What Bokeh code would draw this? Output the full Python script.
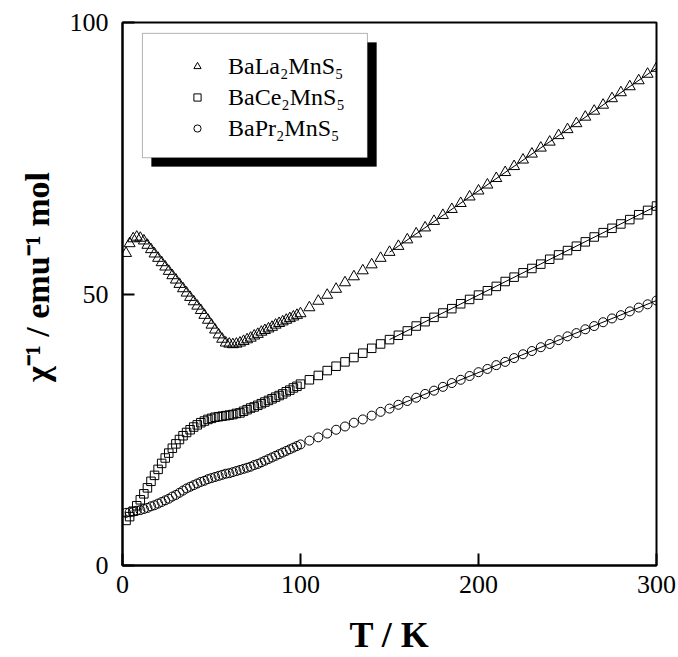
from bokeh.plotting import figure
from bokeh.models import Range1d, FixedTicker, BoxAnnotation, Legend, LegendItem
from bokeh.embed import file_html
from bokeh.resources import INLINE

# ---- data ----
T_low = list(range(2, 101, 2))
T_high = list(range(105, 301, 5))
T = T_low + T_high

la_low = [57.5, 59.3, 60.2, 60.5, 60.3, 59.8, 59.0, 58.2, 57.4, 56.6,
          55.8, 55.0, 54.2, 53.4, 52.6, 51.8, 51.0, 50.2, 49.4, 48.6,
          47.8, 47.0, 46.1, 45.2, 44.3, 43.4, 42.5, 41.7, 41.0, 40.8,
          40.7, 40.8, 41.0, 41.3, 41.6, 41.9, 42.3, 42.6, 43.0, 43.3,
          43.6, 43.9, 44.3, 44.6, 44.9, 45.2, 45.5, 45.8, 46.1, 46.4]
la_high = [47.5, 48.7, 49.8, 50.9, 52.1, 53.2, 54.3, 55.4, 56.6, 57.7,
           58.8, 60.0, 61.1, 62.2, 63.4, 64.5, 65.6, 66.7, 67.9, 69.0,
           70.1, 71.3, 72.4, 73.5, 74.7, 75.8, 76.9, 78.0, 79.2, 80.3,
           81.4, 82.6, 83.7, 84.8, 86.0, 87.1, 88.2, 89.3, 90.5, 91.6]

ce_low = [8.3, 9.0, 10.0, 11.0, 12.1, 13.2, 14.3, 15.5, 16.6, 17.7,
          18.8, 19.8, 20.7, 21.6, 22.4, 23.2, 23.9, 24.5, 25.0, 25.5,
          25.9, 26.3, 26.6, 26.9, 27.1, 27.3, 27.4, 27.5, 27.6, 27.7,
          27.8, 28.0, 28.1, 28.4, 28.7, 29.0, 29.2, 29.5, 29.8, 30.1,
          30.4, 30.7, 31.0, 31.3, 31.6, 32.0, 32.3, 32.7, 33.0, 33.4]
ce_high = [34.2, 35.0, 35.9, 36.7, 37.5, 38.3, 39.1, 40.0, 40.8, 41.6,
           42.4, 43.2, 44.1, 44.9, 45.7, 46.5, 47.3, 48.2, 49.0, 49.8,
           50.6, 51.4, 52.3, 53.1, 53.9, 54.7, 55.5, 56.4, 57.2, 58.0,
           58.8, 59.6, 60.5, 61.3, 62.1, 62.9, 63.7, 64.6, 65.4, 66.2]

pr_low = [9.7, 9.8, 9.9, 10.1, 10.2, 10.4, 10.6, 10.9, 11.1, 11.4,
          11.7, 12.0, 12.3, 12.7, 13.0, 13.4, 13.8, 14.2, 14.5, 14.8,
          15.1, 15.4, 15.6, 15.9, 16.1, 16.3, 16.5, 16.7, 16.9, 17.0,
          17.2, 17.4, 17.6, 17.8, 18.0, 18.2, 18.5, 18.7, 19.0, 19.3,
          19.6, 19.9, 20.2, 20.5, 20.8, 21.1, 21.4, 21.7, 22.0, 22.3]
pr_high = [23.0, 23.6, 24.3, 25.0, 25.6, 26.3, 26.9, 27.6, 28.3, 28.9,
           29.6, 30.3, 30.9, 31.6, 32.2, 32.9, 33.6, 34.2, 34.9, 35.6,
           36.2, 36.9, 37.5, 38.2, 38.9, 39.5, 40.2, 40.8, 41.5, 42.2,
           42.8, 43.5, 44.1, 44.8, 45.5, 46.1, 46.8, 47.5, 48.1, 48.8]

la = la_low + la_high
ce = ce_low + ce_high
pr = pr_low + pr_high

# Curie-Weiss fit lines (end points)
fit_T = [150, 300]
fit_la = [57.7, 91.6]
fit_ce = [41.6, 66.2]
fit_pr = [28.9, 48.8]

names = ["BaLa\u2082MnS\u2085", "BaCe\u2082MnS\u2085", "BaPr\u2082MnS\u2085"]
x_ticks = [0, 100, 200, 300]
y_ticks = [0, 50, 100]
x_title = "T / K"
y_title = "\u00a0\u00a0\u00a0\u00a0\u03c7\u207b\u00b9 / emu\u207b\u00b9 mol"

SERIF = "Liberation Serif"

p = figure(width=678, height=657, output_backend="svg", toolbar_location=None,
           x_range=Range1d(0, 300), y_range=Range1d(0, 100),
           min_border_left=122, min_border_right=22, min_border_top=22,
           min_border_bottom=92)
p.grid.visible = False
p.outline_line_color = "black"
p.outline_line_width = 2
p.background_fill_color = "white"
p.border_fill_color = "white"

for ax, ticks in ((p.xaxis[0], x_ticks), (p.yaxis[0], y_ticks)):
    ax.ticker = FixedTicker(ticks=ticks)
    ax.minor_tick_line_color = None
    ax.major_tick_in = 12
    ax.major_tick_out = 0
    ax.major_tick_line_width = 2
    ax.axis_line_width = 2
    ax.major_label_text_font = SERIF
    ax.major_label_text_font_size = "26px"
    ax.major_label_text_color = "black"
    ax.axis_label_text_font = SERIF
    ax.axis_label_text_font_style = "bold"
    ax.axis_label_text_color = "black"
p.xaxis[0].major_label_standoff = 10
p.yaxis[0].major_label_standoff = 14
p.xaxis[0].axis_label = x_title
p.xaxis[0].axis_label_text_font_size = "36px"
p.xaxis[0].axis_label_standoff = 19
p.yaxis[0].axis_label = y_title
p.yaxis[0].axis_label_text_font_size = "34px"
p.yaxis[0].axis_label_standoff = 11

# legend box + shadow
p.add_layout(BoxAnnotation(left=16.3, right=142.7, top=96.3, bottom=73.5,
                           fill_color="black", fill_alpha=1.0, line_color="black"))
p.add_layout(BoxAnnotation(left=11.2, right=137.6, top=98.0, bottom=75.1,
                           fill_color="white", fill_alpha=1.0,
                           line_color="black", line_width=1))

# fit lines
for fv in (fit_la, fit_ce, fit_pr):
    p.line(fit_T, fv, line_color="black", line_width=1)

r1 = p.scatter(T, la, marker="triangle", size=11, fill_color=None,
               line_color="black", line_width=1)
r2 = p.scatter(T, ce, marker="square", size=8.5, fill_color=None,
               line_color="black", line_width=1)
r3 = p.scatter(T, pr, marker="circle", size=9, fill_color=None,
               line_color="black", line_width=1)

legend = Legend(items=[LegendItem(label=names[0], renderers=[r1]),
                       LegendItem(label=names[1], renderers=[r2]),
                       LegendItem(label=names[2], renderers=[r3])],
                location=(66, 423), orientation="vertical",
                padding=0, margin=0, spacing=3,
                glyph_width=18, glyph_height=18, label_height=28,
                label_standoff=22,
                label_text_font=SERIF, label_text_font_size="24px",
                label_text_color="black",
                border_line_alpha=0, background_fill_alpha=0)
p.add_layout(legend)

open("out.html", "w").write(file_html(p, INLINE))
